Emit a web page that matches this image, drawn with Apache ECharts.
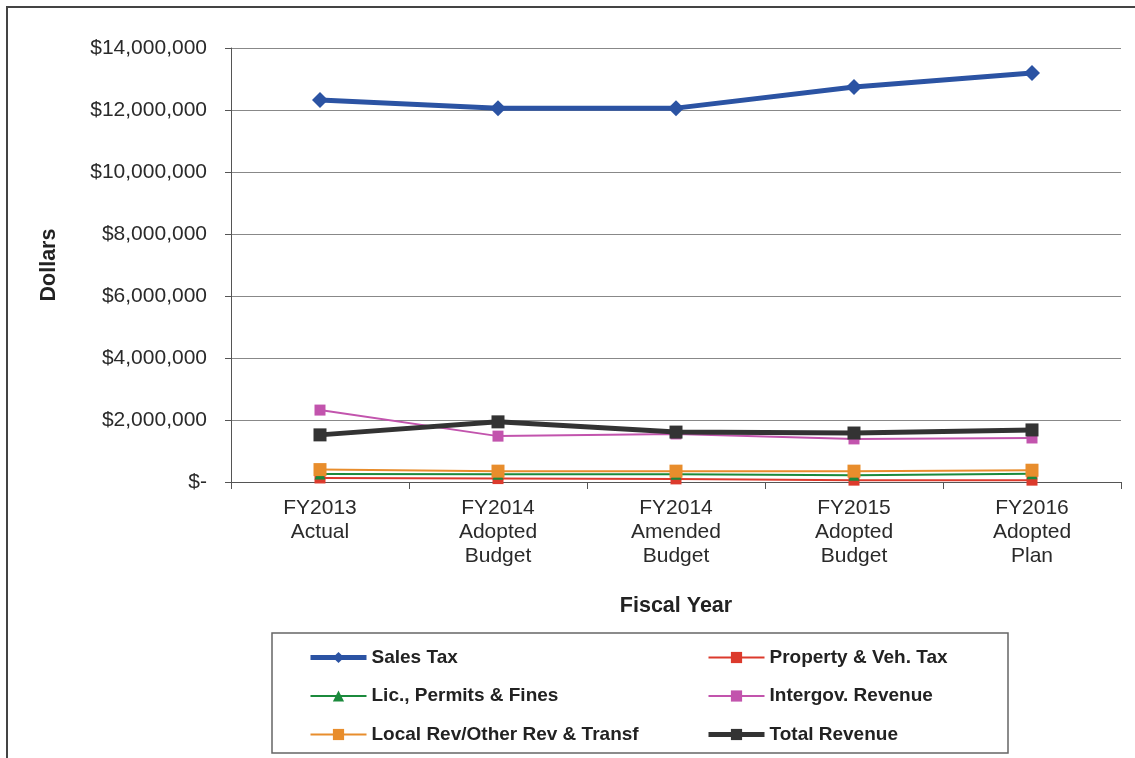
<!DOCTYPE html>
<html>
<head>
<meta charset="utf-8">
<script src="https://cdn.jsdelivr.net/npm/echarts@6/dist/echarts.min.js"></script>
<style>
  html, body { margin: 0; padding: 0; background: #fff; }
  #chart { width: 1135px; height: 758px; }
</style>
</head>
<body>
<div id="chart"></div>
<script>
// data
var years = ["FY2013\nActual", "FY2014\nAdopted\nBudget", "FY2014\nAmended\nBudget", "FY2015\nAdopted\nBudget", "FY2016\nAdopted\nPlan"];
var salesTax = [12320000, 12060000, 12060000, 12740000, 13190000];
var propertyTax = [130000, 110000, 100000, 60000, 60000];
var licPermits = [260000, 250000, 250000, 220000, 270000];
var intergov = [2320000, 1480000, 1550000, 1390000, 1420000];
var localRev = [400000, 350000, 350000, 350000, 380000];
var totalRev = [1520000, 1940000, 1610000, 1580000, 1680000];

var font = "Liberation Sans, Arial, sans-serif";
var myChart = echarts.init(document.getElementById("chart"));

function fmtDollar(v) {
    if (v === 0) return "$-";
    return "$" + v.toLocaleString("en-US");
}

function mkSeries(name, data, color, symbol, width, size) {
    return {
        name: name,
        type: "line",
        data: data,
        symbol: symbol,
        symbolSize: size,
        lineStyle: { color: color, width: width },
        itemStyle: { color: color },
        animation: false
    };
}

var legendText = { fontFamily: font, fontSize: 19, fontWeight: "bold", color: "#222" };

var option = {
    backgroundColor: "#fff",
    grid: { left: 231, right: 14, top: 48, bottom: 276 },
    graphic: [
        { type: "rect", shape: { x: 7, y: 7, width: 1140, height: 760 }, style: { fill: null, stroke: "#444", lineWidth: 2 }, silent: true },
        { type: "rect", shape: { x: 272, y: 633, width: 736, height: 120 }, style: { fill: null, stroke: "#666", lineWidth: 1.5 }, silent: true }
    ],
    legend: [
        {
            orient: "vertical", left: 303, top: 643, itemWidth: 56, itemHeight: 14, itemGap: 19.5,
            textStyle: legendText,
            data: [
                { name: "Sales Tax", lineStyle: { width: 5 } },
                "Lic., Permits & Fines",
                "Local Rev/Other Rev & Transf"
            ]
        },
        {
            orient: "vertical", left: 701, top: 643, itemWidth: 56, itemHeight: 14, itemGap: 19.5,
            textStyle: legendText,
            data: [
                "Property & Veh. Tax",
                "Intergov. Revenue",
                { name: "Total Revenue", lineStyle: { width: 5 } }
            ]
        }
    ],
    xAxis: {
        type: "category",
        data: years,
        boundaryGap: true,
        name: "Fiscal Year",
        nameLocation: "middle",
        nameGap: 113,
        nameTextStyle: { fontFamily: font, fontSize: 21.5, fontWeight: "bold", color: "#222" },
        axisLine: { lineStyle: { color: "#555", width: 1 } },
        axisTick: { show: true, length: 7, lineStyle: { color: "#555" } },
        axisLabel: { fontFamily: font, fontSize: 21, color: "#2a2a2a", lineHeight: 24, margin: 14 }
    },
    yAxis: {
        type: "value",
        min: 0,
        max: 14000000,
        interval: 2000000,
        name: "Dollars",
        nameLocation: "middle",
        nameGap: 171,
        nameRotate: 90,
        nameTextStyle: { fontFamily: font, fontSize: 21.5, fontWeight: "bold", color: "#222" },
        axisLine: { show: true, lineStyle: { color: "#555", width: 1 } },
        axisTick: { show: true, length: 6, lineStyle: { color: "#555" } },
        axisLabel: { fontFamily: font, fontSize: 21, color: "#2a2a2a", margin: 24, formatter: fmtDollar },
        splitLine: { lineStyle: { color: "#888", width: 1 } }
    },
    series: [
        mkSeries("Sales Tax", salesTax, "#2b53a3", "diamond", 5, 16),
        mkSeries("Property & Veh. Tax", propertyTax, "#dc3a2c", "rect", 2, 11),
        mkSeries("Lic., Permits & Fines", licPermits, "#1b8a3c", "triangle", 2, 11),
        mkSeries("Intergov. Revenue", intergov, "#c254ad", "rect", 2, 11),
        mkSeries("Local Rev/Other Rev & Transf", localRev, "#e88d2c", "rect", 2, 13),
        mkSeries("Total Revenue", totalRev, "#333333", "rect", 5, 13)
    ]
};

myChart.setOption(option);
</script>
</body>
</html>
